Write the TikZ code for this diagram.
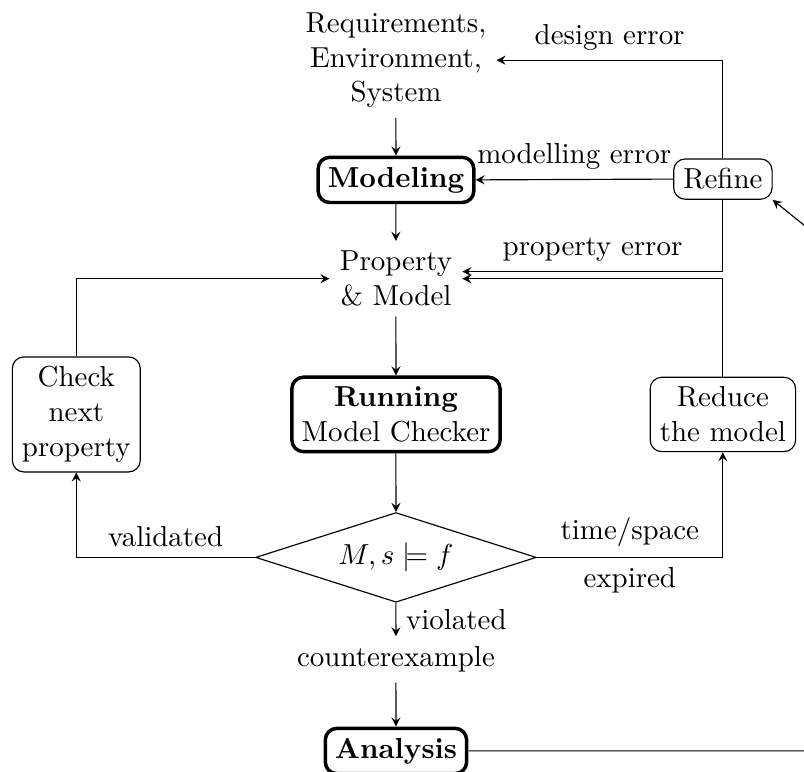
\documentclass[tikz,border=0pt]{standalone}
\usetikzlibrary{shapes.geometric}

\tikzset{
	>=stealth,
	mainbox/.style={draw, very thick, rounded corners, align=center},
	sidebox/.style={draw, rounded corners, align=center},
	check/.style={draw, diamond, aspect=3, minimum width=3.41cm, minimum height=1.09cm, inner sep=1pt},
	plain/.style={align=center},
}

\begin{document}
\begin{tikzpicture}[scale=0.976]
		\useasboundingbox (0,0) rectangle (10.01,-9.6);
		% main column
		\node[plain] (req) at (4.93,-0.75) {Requirements,\\ Environment,\\ System};
		\node[mainbox] (modeling) at (4.93,-2.24) {\textbf{Modeling}};
		\node[plain] (prop) at (4.93,-3.47) {Property\\ \& Model};
		\node[mainbox] (running) at (4.93,-5.16) {\textbf{Running}\\ Model Checker};
		\node[check] (test) at (4.93,-6.94) {$M, s \models f$};
		\node[plain] (counter) at (4.93,-8.21) {counterexample};
		\node[mainbox] (analysis) at (4.93,-9.35) {\textbf{Analysis}};
		% side boxes
		\node[sidebox] (refine) at (9.0,-2.23) {Refine};
		\node[sidebox] (reduce) at (9.0,-5.16) {Reduce\\ the model};
		\node[sidebox] (next) at (0.95,-5.16) {Check\\ next\\ property};
		\coordinate (loop) at (11.0,-9.35);
		\coordinate (turn) at (11.0,-3.6);

		\draw[->] (req) -- (modeling);
		\draw[->] (modeling) -- (prop);
		\draw[->] (prop) -- (running);
		\draw[->] (running) -- (test);
		\draw[->] (test) -- node[right] {violated} (counter);
		\draw[->] (counter) -- (analysis);
		\draw[->] (test.west) -| node[pos=0.25, above] {validated} (next.south);
		\draw[->] (next.north) |- (prop.west);
		\draw[->] (test.east) -| node[pos=0.25, above] {time/space}
			node[pos=0.25, below] {expired} (reduce.south);
		\draw[->] (reduce.north) |- (prop.east);
		\draw[->] (analysis.east) -- (loop) -- (turn) -- (refine.south east);
		\draw[->] (refine.west) -- node[above] {modelling error} (modeling.east);
		\draw[->] (refine.north) |- node[pos=0.75, above] {design error} (req.east);
		\draw[->] (refine.south) |- node[pos=0.75, above] {property error} ([yshift=2.5pt]prop.east);
	\end{tikzpicture}
\end{document}
